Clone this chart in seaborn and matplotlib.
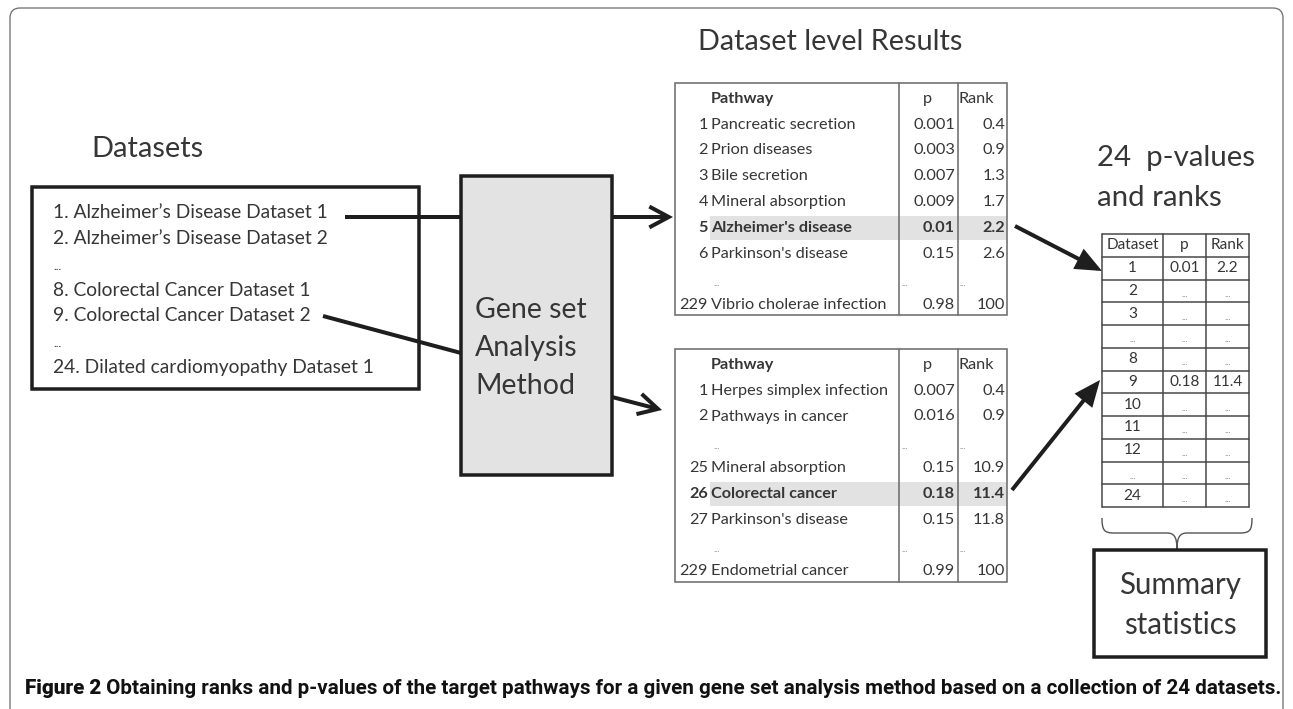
import matplotlib
matplotlib.use("Agg")
import matplotlib.pyplot as plt
import seaborn as sns
from matplotlib import font_manager
from matplotlib.patches import Rectangle, FancyBboxPatch, FancyArrowPatch, PathPatch
from matplotlib.path import Path

# ---------------- data ----------------
datasets_title = "Datasets"
dataset_lines = ["1. Alzheimer\u2019s Disease Dataset 1", "2. Alzheimer\u2019s Disease Dataset 2", "...",
                 "8. Colorectal Cancer Dataset 1", "9. Colorectal Cancer Dataset 2", "...",
                 "24. Dilated cardiomyopathy Dataset 1"]
method_lines = ["Gene set", "Analysis", "Method"]
results_title = "Dataset level Results"

top_idx = ["1", "2", "3", "4", "5", "6", "", "229"]
top_names = ["Pancreatic secretion", "Prion diseases", "Bile secretion", "Mineral absorption",
             "Alzheimer's disease", "Parkinson's disease", "...", "Vibrio cholerae infection"]
top_p = ["0.001", "0.003", "0.007", "0.009", "0.01", "0.15", "...", "0.98"]
top_rank = ["0.4", "0.9", "1.3", "1.7", "2.2", "2.6", "...", "100"]
top_hl = 4

bot_idx = ["1", "2", "", "25", "26", "27", "", "229"]
bot_names = ["Herpes simplex infection", "Pathways in cancer", "...", "Mineral absorption",
             "Colorectal cancer", "Parkinson's disease", "...", "Endometrial cancer"]
bot_p = ["0.007", "0.016", "...", "0.15", "0.18", "0.15", "...", "0.99"]
bot_rank = ["0.4", "0.9", "...", "10.9", "11.4", "11.8", "...", "100"]
bot_hl = 4

table_header = ["Pathway", "p", "Rank"]
summary_header = ["Dataset", "p", "Rank"]
summary_ds = ["1", "2", "3", "...", "8", "9", "10", "11", "12", "...", "24"]
summary_p = ["0.01", "...", "...", "...", "...", "0.18", "...", "...", "...", "...", "..."]
summary_rank = ["2.2", "...", "...", "...", "...", "11.4", "...", "...", "...", "...", "..."]
pv_title = ["24  p-values", "and ranks"]
summary_box = ["Summary", "statistics"]
caption_bold = "Figure 2"
caption_text = (" Obtaining ranks and p-values of the target pathways for a given gene set "
                "analysis method based on a collection of 24 datasets.")

# ---------------- setup ----------------
sns.set_theme(style="white")
plt.rcParams['font.family'] = ['Lato', 'DejaVu Sans']
installed = {f.name for f in font_manager.fontManager.ttflist}
CAP_FONT = 'Liberation Sans Narrow' if 'Liberation Sans Narrow' in installed else 'Roboto'

W, H = 1293, 709
fig = plt.figure(figsize=(W / 100, H / 100), dpi=100)
ax = fig.add_axes([0, 0, 1, 1])
ax.set_xlim(0, W)
ax.set_ylim(H, 0)
ax.axis('off')
renderer = fig.canvas.get_renderer()

TXT = '#363636'
DARK = '#1e1e1e'


def pt(v):
    return v * 72 / 100


def fit_size(s, width, **kw):
    t = ax.text(0, 0, s, fontsize=20, **kw)
    w = t.get_window_extent(renderer=renderer).width
    t.remove()
    return 20 * width / w


# outer frame
ax.add_patch(FancyBboxPatch((10, 8), 1273, 730, boxstyle="round,pad=0,rounding_size=10",
                            fill=False, ec='#707070', lw=pt(1.3)))

# datasets
fs = fit_size(datasets_title, 112)
ax.text(91, 149, datasets_title, fontsize=fs, color=TXT, va='center')
ax.add_patch(Rectangle((32, 187), 387, 202, fill=False, ec=DARK, lw=pt(3.5)))
fs_list = fit_size(dataset_lines[0], 277)
for i, s in enumerate(dataset_lines):
    y = 213 + 25.67 * i
    if s == "...":
        ax.text(53, y + 6, "...", fontsize=fs_list * 0.6, color=TXT, va='baseline')
    else:
        ax.text(53, y, s, fontsize=fs_list, color=TXT, va='center')

# connecting lines into method box
ax.plot([345, 461], [217, 217], color=DARK, lw=pt(4), solid_capstyle='butt')
ax.plot([323, 461], [316, 353], color=DARK, lw=pt(4), solid_capstyle='butt')

# method box
ax.add_patch(Rectangle((461, 176), 151, 299, fc='#e3e3e3', ec=DARK, lw=pt(3.5), zorder=3))
fs_m = fit_size(method_lines[0], 112)
for i, s in enumerate(method_lines):
    ax.text(475, 310 + 38 * i, s, fontsize=fs_m, color=TXT, va='center', zorder=4)

# arrows to pathway tables
for (x0, y0), (x1, y1) in [((612, 217), (673, 217)), ((612, 397), (662, 410))]:
    ax.add_patch(FancyArrowPatch((x0, y0), (x1, y1),
                                 arrowstyle='->,head_length=14,head_width=7.5',
                                 mutation_scale=1, lw=pt(4), color=DARK,
                                 shrinkA=0, shrinkB=0, capstyle='butt', joinstyle='miter'))

# title
fs_t = fit_size(results_title, 265)
ax.text(698, 42, results_title, fontsize=fs_t, color=TXT, va='center')

# pathway tables
fs_row = fit_size("Pancreatic secretion", 145)
TB = '#6e6e6e'


def pathway_table(top, bottom, idx, names, pv, rk, hl):
    left, right, d1, d2 = 675, 1007, 899, 958
    step = 25.75
    y0 = top + 16
    yh = y0 + step * (hl + 1)
    ax.add_patch(Rectangle((710, yh - 12), right - 710, 24, fc='#e2e2e2', ec='none', zorder=1))
    ax.add_patch(Rectangle((left, top), right - left, bottom - top, fill=False, ec=TB,
                           lw=pt(1.6), zorder=2))
    for xd in (d1, d2):
        ax.plot([xd, xd], [top, bottom], color=TB, lw=pt(1.6), zorder=2)
    ax.text(711, y0, table_header[0], fontsize=fs_row, fontweight='bold', color=TXT, va='center')
    ax.text(927, y0, table_header[1], fontsize=fs_row, color=TXT, va='center', ha='center')
    ax.text(959, y0, table_header[2], fontsize=fs_row, color=TXT, va='center')
    for i in range(len(names)):
        y = y0 + step * (i + 1)
        fw = 'bold' if i == hl else 'normal'
        if names[i] == "...":
            for xx in (713, 901, 960):
                ax.text(xx, y + 7, "...", fontsize=fs_row * 0.55, color='#666666', va='baseline')
            continue
        ax.text(708, y, idx[i], fontsize=fs_row, color=TXT, va='center', ha='right', fontweight=fw)
        ax.text(711, y, names[i], fontsize=fs_row, color=TXT, va='center', fontweight=fw)
        ax.text(955, y, pv[i], fontsize=fs_row, color=TXT, va='center', ha='right', fontweight=fw)
        ax.text(1005, y, rk[i], fontsize=fs_row, color=TXT, va='center', ha='right', fontweight=fw)


pathway_table(83, 315, top_idx, top_names, top_p, top_rank, top_hl)
pathway_table(349, 582, bot_idx, bot_names, bot_p, bot_rank, bot_hl)

# 24 p-values title
fs_pv = fit_size(pv_title[1], 125)
for i, s in enumerate(pv_title):
    ax.text(1097, 158 + 40 * i, s, fontsize=fs_pv, color=TXT, va='center')

# summary table
cols = [1102, 1163, 1206, 1249]
rtop, rstep = 234, 22.75
nrows = len(summary_ds) + 1
RB = '#444444'
for xc in cols:
    ax.plot([xc, xc], [rtop, rtop + rstep * nrows], color=RB, lw=pt(1.5))
for k in range(nrows + 1):
    ax.plot([cols[0], cols[-1]], [rtop + rstep * k] * 2, color=RB, lw=pt(1.5))
fs_rt = fit_size("Dataset", 53)
centers = [(cols[i] + cols[i + 1]) / 2 for i in range(3)]
for j, s in enumerate(summary_header):
    ax.text(centers[j], rtop + rstep * 0.5, s, fontsize=fs_rt, color=TXT, va='center', ha='center')
for i in range(len(summary_ds)):
    yc = rtop + rstep * (i + 1.5)
    for j, s in enumerate([summary_ds[i], summary_p[i], summary_rank[i]]):
        if s == "...":
            ax.text(centers[j], yc + 6, "...", fontsize=fs_rt * 0.6, color='#666666',
                    va='baseline', ha='center')
        else:
            ax.text(centers[j], yc, s, fontsize=fs_rt, color=TXT, va='center', ha='center')

# arrows to summary table
for (x0, y0), (x1, y1) in [((1015, 226), (1102, 271)), ((1012, 490), (1100, 380))]:
    ax.add_patch(FancyArrowPatch((x0, y0), (x1, y1),
                                 arrowstyle='-|>,head_length=14,head_width=6',
                                 mutation_scale=1, lw=pt(4), color=DARK,
                                 shrinkA=0, shrinkB=0, capstyle='butt', joinstyle='miter'))

# brace
verts = [(1102, 518), (1102, 530), (1104, 533), (1114, 533), (1167, 533),
         (1174, 533), (1177, 537), (1177, 549), (1177, 537), (1180, 533), (1187, 533),
         (1240, 533), (1250, 533), (1252, 530), (1252, 518)]
codes = [Path.MOVETO, Path.CURVE4, Path.CURVE4, Path.CURVE4, Path.LINETO,
         Path.CURVE4, Path.CURVE4, Path.CURVE4, Path.CURVE4, Path.CURVE4, Path.CURVE4,
         Path.LINETO, Path.CURVE4, Path.CURVE4, Path.CURVE4]
ax.add_patch(PathPatch(Path(verts, codes), fill=False, ec='#555555', lw=pt(1.4)))

# summary statistics box
ax.add_patch(Rectangle((1094, 550), 172, 107, fill=False, ec=DARK, lw=pt(3.5)))
fs_s = fit_size(summary_box[0], 122)
for i, s in enumerate(summary_box):
    ax.text(1180, 585 + 40 * i, s, fontsize=fs_s, color=TXT, va='center', ha='center')

# caption
full = caption_bold + caption_text
fs_c = fit_size(full, 1250, family=CAP_FONT, fontweight='bold')
t1 = ax.text(25, 689, caption_bold, fontsize=fs_c, family=CAP_FONT, fontweight='heavy',
             color='#111111', va='center')
w1 = t1.get_window_extent(renderer=renderer).width
ax.text(25 + w1, 689, caption_text, fontsize=fs_c, family=CAP_FONT, fontweight='bold',
        color='#111111', va='center')

fig.savefig("out.png", dpi=100)
